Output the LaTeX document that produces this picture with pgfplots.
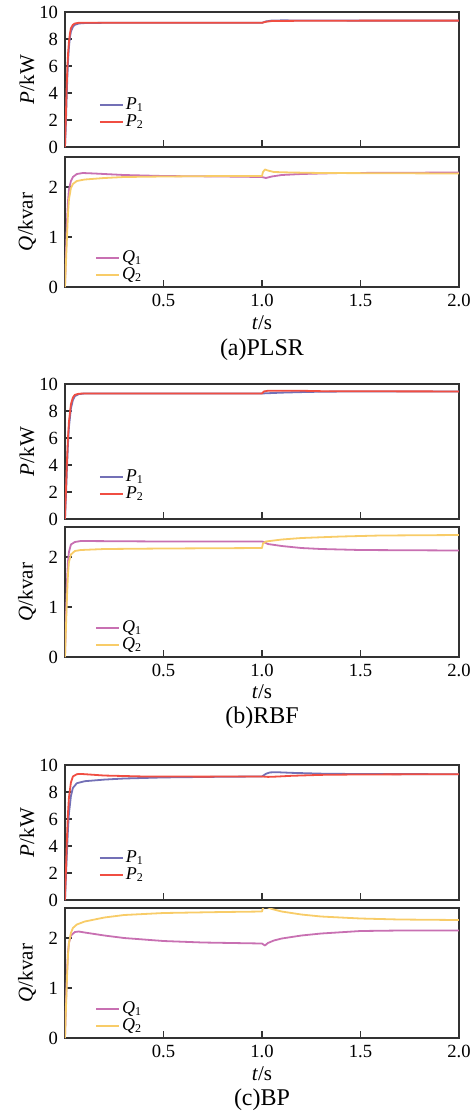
\documentclass[border=0pt]{standalone}
\usepackage{fontspec}
\setmainfont{Liberation Serif}
\usepackage{pgfplots}
\pgfplotsset{compat=1.18}

\definecolor{cpa}{RGB}{115,112,182}
\definecolor{cpb}{RGB}{240,78,66}
\definecolor{cqa}{RGB}{200,112,178}
\definecolor{cqb}{RGB}{248,204,104}

\pgfplotsset{
  base/.style={
    scale only axis, width=197pt,
    xmin=0, xmax=2,
    axis line style={line width=0.9pt, black!80},
    tick align=inside, xtick pos=lower, ytick pos=left,
    major tick length=3.5pt,
    tick style={line width=0.8pt, black!80},
    xtick={0.5,1,1.5,2},
    /pgf/number format/assume math mode=true,
    ticklabel style={font=\fontsize{9.3}{10}\selectfont},
    ylabel style={font=\fontsize{10.5}{12}\selectfont, at={(rel axis cs:0,0.5)}, anchor=center, rotate=0, yshift=19pt},
    legend style={draw=none, fill=none, anchor=north west,
      font=\fontsize{9}{10}\selectfont, row sep=-1pt,
      nodes={inner sep=1pt}},
    legend cell align=left,
    legend image code/.code={\draw[#1, line width=1pt] (0pt,0pt) -- (11.5pt,0pt);},
    every axis plot/.append style={line width=0.9pt, line join=round},
  },
  pstyle/.style={base, height=67.5pt, ymin=0, ymax=10, ytick={0,2,...,10},
    xticklabels={}, ylabel={\textit{P}/kW},
    legend style={at={(rel axis cs:0.07,0.41)}}},
  qstyle/.style={base, height=65pt, ymin=0, ymax=2.6, ytick={0,1,2},
    xticklabels={0.5,1.0,1.5,2.0}, ylabel={\textit{Q}/kvar},
    legend style={at={(rel axis cs:0.06,0.33)}}},
}

\begin{document}
\begin{tikzpicture}
% ---------------- (a) PLSR
\begin{axis}[pstyle, at={(0,-6pt)}, anchor=north west]
\addplot[cpa] coordinates {(0,0)(0.004,1.5)(0.008,3.5)(0.012,5.2)(0.016,6.5)(0.02,7.4)(0.025,8.1)(0.03,8.55)(0.04,8.9)(0.05,9.05)(0.07,9.15)(0.1,9.18)(0.2,9.2)(0.5,9.2)(1.0,9.2)(1.02,9.3)(1.05,9.37)(1.1,9.38)(1.3,9.37)(1.5,9.36)(2,9.36)};
\addlegendentry{\textit{P}\textsubscript{1}}
\addplot[cpb] coordinates {(0,0)(0.004,2)(0.008,4.2)(0.012,5.9)(0.016,7.0)(0.02,7.8)(0.025,8.4)(0.03,8.8)(0.04,9.05)(0.05,9.15)(0.07,9.2)(0.1,9.2)(0.5,9.2)(1.0,9.2)(1.02,9.28)(1.05,9.33)(1.2,9.35)(1.5,9.36)(2,9.36)};
\addlegendentry{\textit{P}\textsubscript{2}}
\end{axis}
\begin{axis}[qstyle, at={(0,-78.5pt)}, anchor=north west]
\addplot[cqa] coordinates {(0,0)(0.005,0.7)(0.01,1.3)(0.015,1.7)(0.02,1.95)(0.03,2.12)(0.04,2.2)(0.06,2.26)(0.09,2.28)(0.15,2.27)(0.3,2.24)(0.5,2.22)(0.8,2.21)(1.0,2.2)(1.02,2.18)(1.05,2.21)(1.1,2.24)(1.2,2.26)(1.4,2.28)(2,2.29)};
\addlegendentry{\textit{Q}\textsubscript{1}}
\addplot[cqb] coordinates {(0,0)(0.005,0.5)(0.01,1.0)(0.015,1.45)(0.02,1.75)(0.03,1.98)(0.04,2.06)(0.06,2.12)(0.1,2.15)(0.2,2.18)(0.3,2.2)(0.5,2.21)(0.8,2.22)(1.0,2.22)(1.005,2.3)(1.015,2.35)(1.03,2.33)(1.06,2.3)(1.15,2.29)(1.3,2.28)(2,2.27)};
\addlegendentry{\textit{Q}\textsubscript{2}}
\end{axis}
\node[font=\fontsize{10.5}{12}\selectfont] at (98.5pt,-161.5pt) {\textit{t}/s};
\node[font=\fontsize{12}{14}\selectfont] at (98.5pt,-175pt) {(a)PLSR};

% ---------------- (b) RBF
\begin{axis}[pstyle, at={(0,-192pt)}, anchor=north west]
\addplot[cpa] coordinates {(0,0)(0.005,1.8)(0.01,3.8)(0.015,5.5)(0.02,6.8)(0.03,8.2)(0.04,8.8)(0.05,9.1)(0.07,9.25)(0.1,9.3)(1.0,9.3)(1.05,9.33)(1.1,9.36)(1.2,9.4)(1.3,9.43)(1.5,9.45)(2,9.45)};
\addlegendentry{\textit{P}\textsubscript{1}}
\addplot[cpb] coordinates {(0,0)(0.005,2.2)(0.01,4.3)(0.015,6.0)(0.02,7.2)(0.03,8.5)(0.04,9.0)(0.05,9.2)(0.07,9.28)(0.1,9.3)(1.0,9.3)(1.01,9.45)(1.03,9.5)(1.2,9.5)(1.3,9.47)(1.5,9.46)(2,9.45)};
\addlegendentry{\textit{P}\textsubscript{2}}
\end{axis}
\begin{axis}[qstyle, at={(0,-263.5pt)}, anchor=north west]
\addplot[cqa] coordinates {(0,0)(0.005,0.8)(0.01,1.5)(0.015,1.9)(0.02,2.1)(0.03,2.25)(0.05,2.3)(0.08,2.32)(0.5,2.31)(1.0,2.31)(1.01,2.3)(1.03,2.26)(1.1,2.22)(1.2,2.18)(1.3,2.16)(1.5,2.14)(2,2.13)};
\addlegendentry{\textit{Q}\textsubscript{1}}
\addplot[cqb] coordinates {(0,0)(0.005,0.6)(0.01,1.2)(0.015,1.65)(0.02,1.9)(0.03,2.05)(0.05,2.12)(0.08,2.14)(0.2,2.16)(0.5,2.17)(1.0,2.18)(1.005,2.27)(1.02,2.31)(1.1,2.35)(1.2,2.38)(1.4,2.41)(1.6,2.43)(2,2.44)};
\addlegendentry{\textit{Q}\textsubscript{2}}
\end{axis}
\node[font=\fontsize{10.5}{12}\selectfont] at (98.5pt,-346pt) {\textit{t}/s};
\node[font=\fontsize{12}{14}\selectfont] at (98.5pt,-359pt) {(b)RBF};

% ---------------- (c) BP
\begin{axis}[pstyle, at={(0,-382.5pt)}, anchor=north west]
\addplot[cpa] coordinates {(0,0)(0.005,1.8)(0.01,3.6)(0.015,5.2)(0.02,6.4)(0.03,7.7)(0.04,8.3)(0.06,8.65)(0.1,8.8)(0.2,8.92)(0.3,9.0)(0.5,9.08)(0.8,9.13)(1.0,9.15)(1.02,9.35)(1.04,9.45)(1.07,9.47)(1.15,9.42)(1.3,9.36)(1.5,9.33)(2,9.32)};
\addlegendentry{\textit{P}\textsubscript{1}}
\addplot[cpb] coordinates {(0,0)(0.005,2.3)(0.01,4.6)(0.015,6.4)(0.02,7.6)(0.03,8.7)(0.04,9.15)(0.06,9.32)(0.08,9.34)(0.12,9.3)(0.2,9.22)(0.4,9.15)(0.7,9.14)(1.0,9.15)(1.03,9.12)(1.07,9.14)(1.15,9.2)(1.3,9.27)(1.5,9.3)(2,9.32)};
\addlegendentry{\textit{P}\textsubscript{2}}
\end{axis}
\begin{axis}[qstyle, at={(0,-454pt)}, anchor=north west]
\addplot[cqa] coordinates {(0,0)(0.005,0.7)(0.01,1.3)(0.015,1.7)(0.02,1.9)(0.03,2.05)(0.05,2.12)(0.07,2.13)(0.1,2.11)(0.2,2.05)(0.3,2.0)(0.5,1.94)(0.7,1.91)(1.0,1.89)(1.015,1.85)(1.03,1.9)(1.06,1.95)(1.1,1.99)(1.2,2.05)(1.3,2.09)(1.5,2.14)(1.7,2.15)(2,2.15)};
\addlegendentry{\textit{Q}\textsubscript{1}}
\addplot[cqb] coordinates {(0,0)(0.005,0.6)(0.01,1.2)(0.015,1.65)(0.02,1.9)(0.03,2.1)(0.04,2.2)(0.06,2.27)(0.1,2.33)(0.2,2.41)(0.3,2.46)(0.5,2.5)(0.8,2.52)(1.0,2.53)(1.005,2.6)(1.015,2.63)(1.025,2.62)(1.05,2.58)(1.1,2.53)(1.2,2.47)(1.3,2.43)(1.5,2.39)(1.7,2.37)(2,2.36)};
\addlegendentry{\textit{Q}\textsubscript{2}}
\end{axis}
\node[font=\fontsize{10.5}{12}\selectfont] at (98.5pt,-537pt) {\textit{t}/s};
\node[font=\fontsize{12}{14}\selectfont] at (98.5pt,-550pt) {(c)BP};

\pgfresetboundingbox
\path[use as bounding box] (-32.5pt,0pt) rectangle (204.5pt,-557.5pt);
\end{tikzpicture}
\end{document}
